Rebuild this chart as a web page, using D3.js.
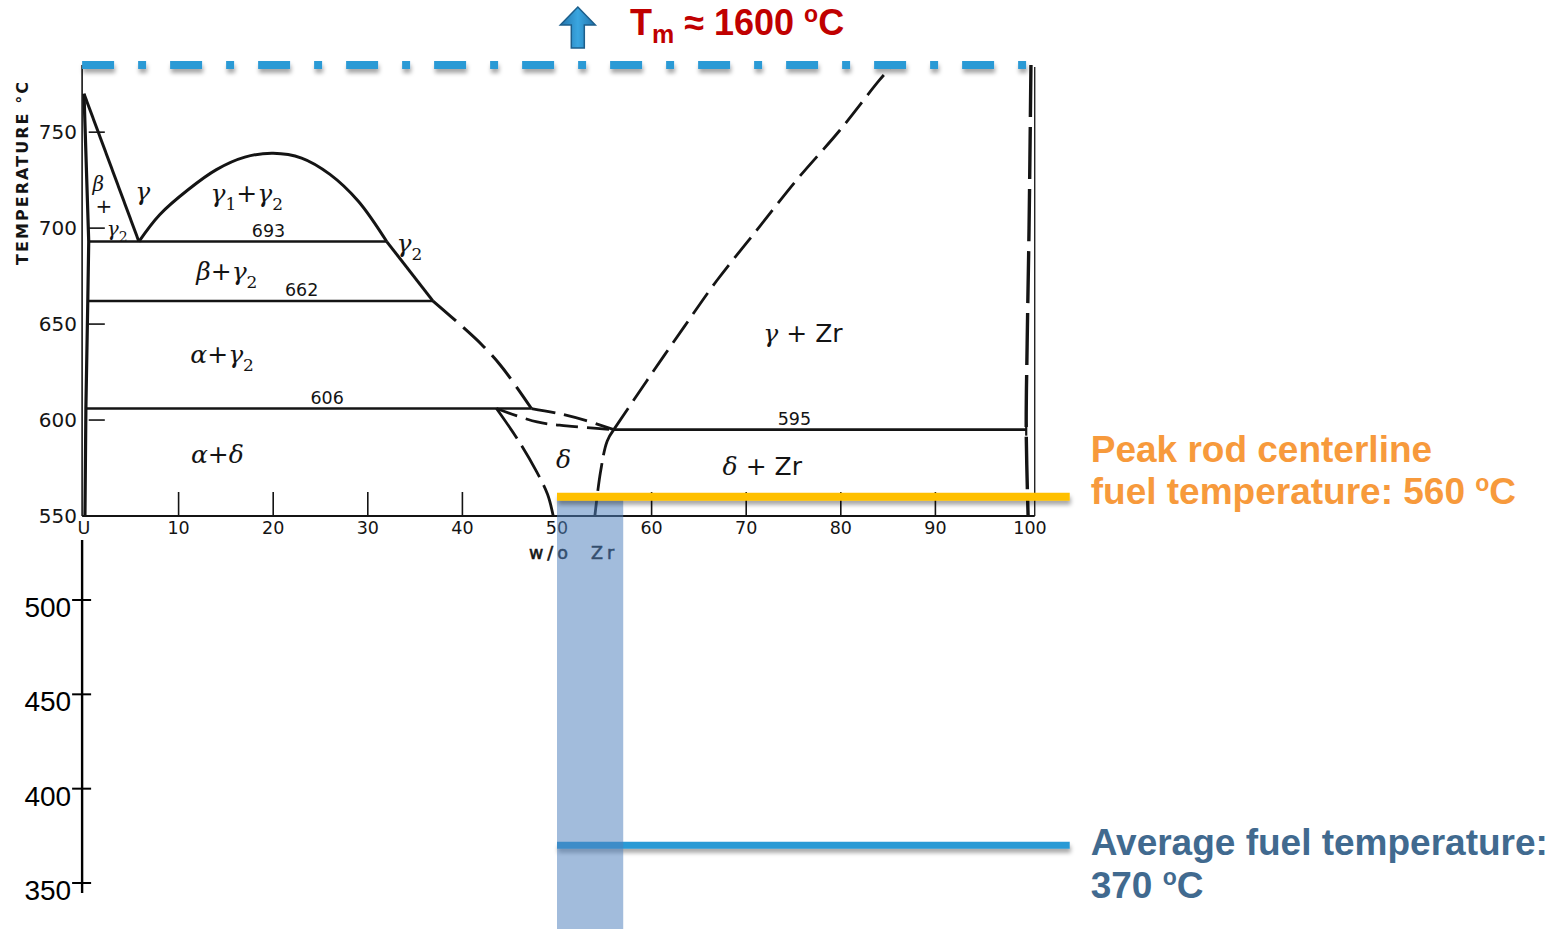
<!DOCTYPE html>
<html>
<head>
<meta charset="utf-8">
<script src="https://cdn.jsdelivr.net/npm/d3@7"></script>
<style>
  html, body { margin: 0; padding: 0; background: #fff; }
  svg { display: block; }
  text { white-space: pre; }
</style>
</head>
<body>
<svg id="chart" width="1556" height="929"></svg>
<script>
// ---------------- data ----------------
// composition axis (wt% Zr)
const zrTicks = [0, 10, 20, 30, 40, 50, 60, 70, 80, 90, 100];
const zrTickLabels = ["U", "10", "20", "30", "40", "50", "60", "70", "80", "90", "100"];
const zrTickMarks = [10, 20, 30, 40, 60, 70, 80, 90];

// temperature axes (°C)
const tempTicksUpper = [550, 600, 650, 700, 750];
const tempInnerTicks = [600, 650, 700, 750];
const tempTicksLower = [350, 400, 450, 500];

// invariant isotherms
const isoTemps = [693, 662, 606, 595];
const isoFrom = [0.5, 0.4, 0.2, 56.0];
const isoTo = [32.0, 36.9, 47.3, 99.6];
const isoLabelAt = [19.5, 23.0, 25.7, 75.1];

// phase boundaries: [wt% Zr, °C]
const uBoundary = [[0, 770], [0.5, 693], [0.4, 662], [0.2, 606], [0.1, 550]];
const betaGamma = [[0, 770], [5.8, 693]];
const gammaDome = [[5.8, 693], [8, 707], [11, 720], [14, 730.5], [17, 737], [20, 739],
                   [23, 736.5], [26, 728], [29, 714], [32, 693]];
const gamma2Solid = [[32, 693], [36.9, 662]];
const gamma2Dashed = [[36.9, 662], [39.6, 650.4], [42, 639.5], [44, 628.7], [45.7, 617.4], [47.3, 606]];
const upperToEutectoid = [[47.3, 606], [50.3, 603.3], [53.1, 599.7], [56, 595]];
const lowerToEutectoid = [[43.6, 606], [47.9, 599], [51, 597], [54.2, 595.7], [56, 595]];
const deltaLeft = [[43.6, 606], [45.9, 589.5], [47.8, 573.5], [49, 561.3], [49.6, 550]];
const deltaRight = [[56, 595], [55.3, 589], [54.6, 573], [54.0, 550]];
const gammaZr = [[56, 595], [59.5, 620.5], [63.4, 648.3], [66.9, 672.7], [71.1, 698.8],
                 [75.3, 724.9], [79.9, 751], [84.1, 777.2], [85.5, 785]];
const zrSolvus = [[100.1, 785], [99.9, 700], [99.7, 640], [99.6, 595], [99.8, 550]];

// phase field names and their anchor (wt% Zr, °C); "_" marks a subscript character
const phaseNames = ["β", "+", "γ_2", "γ", "γ_1+γ_2", "γ_2", "β+γ_2", "α+γ_2", "α+δ", "δ", "γ + Zr", "δ + Zr"];
const phaseZr    = [1.5, 2.1, 3.5, 6.2, 17.2, 34.4, 15.1, 14.6, 14.1, 50.7, 76.0, 71.7];
const phaseTemp  = [722.5, 711, 699, 719, 718, 691.5, 677, 634, 582, 579, 645, 575.5];
// the narrow β+γ2 field is lettered smaller
const phaseSize  = [20, 20, 20, 25, 25, 25, 25, 25, 25, 25, 25, 25];

// operating temperatures
const meltTemp = 1600;         // off-scale, marked at the diagram top
const diagramTop = 785;
const peakTemp = 560;
const avgTemp = 370;
const fuelZrRange = [50, 57];
const markerZrEnd = 104.2;

// ---------------- scales ----------------
const xZr = d3.scaleLinear().domain([0, 100]).range([84, 1030]);
// broken temperature axis: lower annotation scale joined to the phase diagram scale
const yT = d3.scaleLinear().domain([350, 500, 550, diagramTop]).range([883, 600, 516, 65]);

const svg = d3.select("#chart");
const defs = svg.append("defs");

const shadow = defs.append("filter")
  .attr("id", "shadow").attr("filterUnits", "userSpaceOnUse")
  .attr("x", 0).attr("y", 0).attr("width", 1556).attr("height", 929);
shadow.append("feDropShadow")
  .attr("dx", 1).attr("dy", 4).attr("stdDeviation", 2)
  .attr("flood-color", "#000").attr("flood-opacity", 0.35);

const arrowGrad = defs.append("linearGradient").attr("id", "arrowFill")
  .attr("x1", 0).attr("x2", 1).attr("y1", 0).attr("y2", 0);
arrowGrad.append("stop").attr("offset", "0%").attr("stop-color", "#2273ab");
arrowGrad.append("stop").attr("offset", "50%").attr("stop-color", "#3aa6e0");
arrowGrad.append("stop").attr("offset", "100%").attr("stop-color", "#2273ab");

const ink = "#141414";
const line = d3.line().x(d => xZr(d[0])).y(d => yT(d[1])).curve(d3.curveCatmullRom.alpha(0.5));
const straight = d3.line().x(d => xZr(d[0])).y(d => yT(d[1]));

// ---------------- phase diagram ----------------
const diag = svg.append("g").attr("class", "diagram");

// frame
diag.append("line")
  .attr("x1", xZr(-0.2)).attr("x2", xZr(-0.2)).attr("y1", yT(diagramTop)).attr("y2", yT(550))
  .attr("stroke", ink).attr("stroke-width", 1.6);
diag.append("line")
  .attr("x1", xZr(100.5)).attr("x2", xZr(100.5)).attr("y1", yT(784)).attr("y2", yT(550))
  .attr("stroke", ink).attr("stroke-width", 1.3);
diag.append("line")
  .attr("x1", xZr(-0.2)).attr("x2", xZr(100.5)).attr("y1", yT(550)).attr("y2", yT(550))
  .attr("stroke", ink).attr("stroke-width", 1.8);

// composition tick marks
diag.selectAll("line.xtick").data(zrTickMarks).join("line")
  .attr("class", "xtick")
  .attr("x1", d => xZr(d)).attr("x2", d => xZr(d))
  .attr("y1", yT(550)).attr("y2", yT(550) - 24)
  .attr("stroke", ink).attr("stroke-width", 1.6);

// temperature inner tick marks
diag.selectAll("line.ytick").data(tempInnerTicks).join("line")
  .attr("class", "ytick")
  .attr("x1", xZr(0.5)).attr("x2", xZr(2.2))
  .attr("y1", d => yT(d)).attr("y2", d => yT(d))
  .attr("stroke", ink).attr("stroke-width", 1.6);

const scanFont = "'DejaVu Sans', sans-serif";

diag.selectAll("text.ylab").data(tempTicksUpper).join("text")
  .attr("class", "ylab")
  .attr("x", 77).attr("y", d => yT(d))
  .attr("dy", "0.36em")
  .attr("text-anchor", "end")
  .attr("font-family", scanFont).attr("font-size", 20)
  .attr("fill", ink)
  .text(d => d);

diag.selectAll("text.xlab").data(zrTicks).join("text")
  .attr("class", "xlab")
  .attr("x", d => xZr(d)).attr("y", yT(550) + 12)
  .attr("dy", "0.36em")
  .attr("text-anchor", "middle")
  .attr("font-family", scanFont).attr("font-size", 17.5)
  .attr("fill", ink)
  .text((d, i) => zrTickLabels[i]);

diag.append("text")
  .attr("x", 529).attr("y", yT(550) + 43)
  .attr("font-family", scanFont).attr("font-size", 17.5)
  .attr("letter-spacing", 4)
  .attr("fill", ink).attr("stroke", ink).attr("stroke-width", 0.6)
  .text("w/o  Zr");

diag.append("text")
  .attr("transform", `translate(28,${(yT(550) + yT(diagramTop)) / 2 - 117}) rotate(-90)`)
  .attr("text-anchor", "middle")
  .attr("font-family", scanFont).attr("font-size", 16).attr("font-weight", "bold")
  .attr("textLength", 183).attr("lengthAdjust", "spacing")
  .attr("fill", ink)
  .text("TEMPERATURE °C");

// isotherms
const isoData = isoTemps.map((t, i) => ({ t, from: isoFrom[i], to: isoTo[i], lab: isoLabelAt[i] }));
diag.selectAll("line.iso").data(isoData).join("line")
  .attr("class", "iso")
  .attr("x1", d => xZr(d.from)).attr("x2", d => xZr(d.to))
  .attr("y1", d => yT(d.t)).attr("y2", d => yT(d.t))
  .attr("stroke", ink).attr("stroke-width", 2.6);
diag.selectAll("text.iso").data(isoData).join("text")
  .attr("class", "iso")
  .attr("x", d => xZr(d.lab)).attr("y", d => yT(d.t) - 5)
  .attr("text-anchor", "middle")
  .attr("font-family", scanFont).attr("font-size", 17.5)
  .attr("fill", ink)
  .text(d => d.t);
// short end mark of the 595 isotherm at the Zr solvus
diag.append("line")
  .attr("x1", xZr(isoTo[3])).attr("x2", xZr(isoTo[3]))
  .attr("y1", yT(isoTemps[3]) - 6).attr("y2", yT(isoTemps[3]) + 6)
  .attr("stroke", ink).attr("stroke-width", 2.2);

// boundaries
const boundaries = [
  { pts: uBoundary, gen: straight, dash: null, w: 3.2 },
  { pts: betaGamma, gen: straight, dash: null, w: 3 },
  { pts: gammaDome, gen: line, dash: null, w: 3 },
  { pts: gamma2Solid, gen: straight, dash: null, w: 3 },
  { pts: gamma2Dashed, gen: line, dash: "30,10", w: 3 },
  { pts: upperToEutectoid, gen: line, dash: "24,9", w: 2.8 },
  { pts: lowerToEutectoid, gen: line, dash: "22,9", w: 2.8 },
  { pts: deltaLeft, gen: line, dash: "36,9", w: 2.8 },
  { pts: deltaRight, gen: line, dash: "28,8", w: 2.8 },
  { pts: gammaZr, gen: line, dash: "26,9", w: 2.8 },
  { pts: zrSolvus, gen: line, dash: "52,10", w: 3.4 }
];
diag.selectAll("path.bnd").data(boundaries).join("path")
  .attr("class", "bnd")
  .attr("d", d => d.gen(d.pts))
  .attr("fill", "none")
  .attr("stroke", ink)
  .attr("stroke-width", d => d.w)
  .attr("stroke-dasharray", d => d.dash);

// phase field names
const phaseData = phaseNames.map((n, i) => ({ n, zr: phaseZr[i], t: phaseTemp[i], size: phaseSize[i] }));
const phaseText = diag.selectAll("text.phase").data(phaseData).join("text")
  .attr("class", "phase")
  .attr("x", d => xZr(d.zr)).attr("y", d => yT(d.t))
  .attr("dy", "0.32em")
  .attr("text-anchor", "middle")
  .attr("font-family", "'DejaVu Serif', serif")
  .attr("font-style", "italic")
  .attr("font-size", d => d.size)
  .attr("fill", ink);
phaseText.each(function (d) {
  const t = d3.select(this);
  const subSize = Math.round(d.size * 0.68);
  const shift = Math.round(d.size * 0.32);
  let sub = false, shifted = false;
  for (const ch of d.n) {
    if (ch === "_") { sub = true; continue; }
    const span = t.append("tspan").text(ch);
    if (sub) {
      span.attr("font-size", subSize).attr("font-style", "normal").attr("dy", shifted ? 0 : shift);
      shifted = true;
      sub = false;
    } else if (shifted) {
      span.attr("dy", -shift);
      shifted = false;
    }
    if (ch === "+" || ch === "Z" || ch === "r") span.attr("font-style", "normal").attr("font-family", scanFont);
  }
});

// ---------------- lower temperature axis ----------------
const axisX = xZr(-0.2);
const lower = svg.append("g").attr("class", "lower-axis");
lower.append("line")
  .attr("x1", axisX).attr("x2", axisX)
  .attr("y1", yT(550) + 24).attr("y2", yT(350) + 10)
  .attr("stroke", "#000").attr("stroke-width", 2.4);
lower.selectAll("line.tick").data(tempTicksLower).join("line")
  .attr("class", "tick")
  .attr("x1", axisX - 10).attr("x2", axisX + 9)
  .attr("y1", d => yT(d)).attr("y2", d => yT(d))
  .attr("stroke", "#000").attr("stroke-width", 2);
lower.selectAll("text").data(tempTicksLower).join("text")
  .attr("x", axisX - 11).attr("y", d => yT(d) + 17)
  .attr("text-anchor", "end")
  .attr("font-family", "'Liberation Sans', Arial, sans-serif").attr("font-size", 28)
  .attr("fill", "#000")
  .text(d => d);

// ---------------- temperature markers ----------------
const marks = svg.append("g").attr("class", "markers");

// melting point (off-scale) drawn along the diagram top
marks.append("line")
  .attr("x1", xZr(-0.2)).attr("x2", xZr(99.6))
  .attr("y1", yT(diagramTop)).attr("y2", yT(diagramTop))
  .attr("stroke", "#2C9AD5").attr("stroke-width", 8)
  .attr("stroke-dasharray", "32,24,8,24")
  .attr("filter", "url(#shadow)");

// average fuel temperature
marks.append("line")
  .attr("x1", xZr(fuelZrRange[0])).attr("x2", xZr(markerZrEnd))
  .attr("y1", yT(avgTemp)).attr("y2", yT(avgTemp))
  .attr("stroke", "#2C9AD5").attr("stroke-width", 7)
  .attr("filter", "url(#shadow)");

// fuel composition band
marks.append("rect")
  .attr("x", xZr(fuelZrRange[0]))
  .attr("width", xZr(fuelZrRange[1]) - xZr(fuelZrRange[0]))
  .attr("y", yT(peakTemp))
  .attr("height", 929 - yT(peakTemp))
  .attr("fill", "#4F81BD").attr("fill-opacity", 0.53);

// peak centreline temperature
marks.append("line")
  .attr("x1", xZr(fuelZrRange[0])).attr("x2", xZr(markerZrEnd))
  .attr("y1", yT(peakTemp)).attr("y2", yT(peakTemp))
  .attr("stroke", "#FFC000").attr("stroke-width", 8)
  .attr("filter", "url(#shadow)");

// labels
const labelX = xZr(markerZrEnd) + 21;
const labFont = "'Liberation Sans', Arial, sans-serif";

const peakLab = marks.append("text")
  .attr("font-family", labFont).attr("font-size", 37).attr("font-weight", "bold")
  .attr("fill", "#F79A3C");
peakLab.append("tspan").attr("x", labelX).attr("y", yT(peakTemp) - 35).text("Peak rod centerline");
const peakL2 = peakLab.append("tspan").attr("x", labelX).attr("y", yT(peakTemp) + 7);
peakL2.append("tspan").text(`fuel temperature: ${peakTemp} `);
peakL2.append("tspan").attr("font-size", 23).attr("dy", -13).text("o");
peakL2.append("tspan").attr("dy", 13).text("C");

const avgLab = marks.append("text")
  .attr("font-family", labFont).attr("font-size", 37).attr("font-weight", "bold")
  .attr("fill", "#416A8F");
avgLab.append("tspan").attr("x", labelX).attr("y", 855).text("Average fuel temperature:");
const avgL2 = avgLab.append("tspan").attr("x", labelX).attr("y", 898);
avgL2.append("tspan").text(`${avgTemp} `);
avgL2.append("tspan").attr("font-size", 23).attr("dy", -13).text("o");
avgL2.append("tspan").attr("dy", 13).text("C");

// melting temperature note with upward arrow
const ax = xZr(52.2);
const arrowPts = [[ax, 7], [ax + 17.5, 25], [ax + 6.5, 25], [ax + 6.5, 48],
                  [ax - 6.5, 48], [ax - 6.5, 25], [ax - 17.5, 25]];
marks.append("path")
  .attr("d", d3.line()(arrowPts) + "Z")
  .attr("fill", "url(#arrowFill)")
  .attr("stroke", "#1d5f8c").attr("stroke-width", 1.5);

const tm = marks.append("text")
  .attr("x", 630).attr("y", 35)
  .attr("font-family", labFont).attr("font-size", 36).attr("font-weight", "bold")
  .attr("fill", "#C00000");
tm.append("tspan").text("T");
tm.append("tspan").attr("font-size", 25).attr("dy", 8).text("m");
tm.append("tspan").attr("dy", -8).text(` ≈ ${meltTemp} `);
tm.append("tspan").attr("font-size", 23).attr("dy", -13).text("o");
tm.append("tspan").attr("dy", 13).text("C");
</script>
</body>
</html>
